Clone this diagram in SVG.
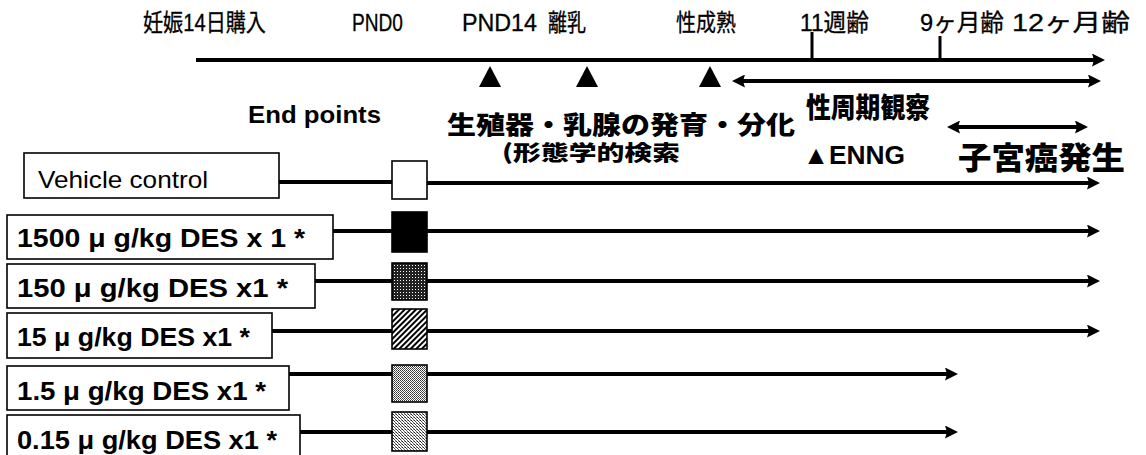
<svg xmlns="http://www.w3.org/2000/svg" width="1146" height="455" viewBox="0 0 1146 455">
<style>
.lbl{font-family:"Liberation Sans","Noto Sans CJK JP",sans-serif;fill:#000}
.top{font-size:24px;stroke:#000;stroke-width:0.3}
.b{font-weight:bold}
.jp{font-family:"Noto Sans CJK JP","Liberation Sans",sans-serif;font-weight:900;fill:#000}
.box{fill:#fff;stroke:#000;stroke-width:1.6}
.sq{stroke:#000;stroke-width:1.6}
.ln{stroke:#000;stroke-width:4;fill:none}
.lnA{stroke:#000;stroke-width:4;fill:none;marker-end:url(#ah)}
.dbl{stroke:#000;stroke-width:4;fill:none;marker-end:url(#ah);marker-start:url(#ah)}
</style>
<defs>
<marker id="ah" markerUnits="userSpaceOnUse" viewBox="0 0 13 13" refX="4" refY="6.5" markerWidth="13" markerHeight="13" orient="auto-start-reverse">
<path d="M0,0 L13,6.5 L0,13 L2,6.5 z" fill="#000"/>
</marker>
<pattern id="pDark" width="3" height="3" patternUnits="userSpaceOnUse">
<rect width="3" height="3" fill="#222"/>
<rect x="1" y="1" width="1" height="1" fill="#fff"/>
</pattern>
<pattern id="pHatch" width="4" height="4" patternUnits="userSpaceOnUse" patternTransform="rotate(-45)">
<rect width="4" height="4" fill="#fff"/>
<rect width="4" height="2" fill="#000"/>
</pattern>
<pattern id="pLight1" width="2" height="2" patternUnits="userSpaceOnUse">
<rect width="2" height="2" fill="#fff"/>
<rect width="1" height="1" fill="#333"/>
<rect x="1" y="1" width="1" height="1" fill="#555"/>
</pattern>
<pattern id="pLight2" width="3" height="3" patternUnits="userSpaceOnUse">
<rect width="3" height="3" fill="#fff"/>
<rect width="1" height="1" fill="#222"/>
<rect x="1" y="1" width="1" height="1" fill="#444"/>
<rect x="2" y="2" width="1" height="1" fill="#666"/>
<rect x="2" y="0" width="1" height="1" fill="#aaa"/>
</pattern>
</defs>
<rect width="1146" height="455" fill="#fff"/>

<g id="timeline-labels">
<text class="lbl top" x="143" y="31" textLength="123" lengthAdjust="spacingAndGlyphs">妊娠14日購入</text>
<text class="lbl top" x="352" y="31" textLength="51" lengthAdjust="spacingAndGlyphs">PND0</text>
<text class="lbl top" x="462" y="31" textLength="75" lengthAdjust="spacingAndGlyphs">PND14</text>
<text class="lbl top" x="548" y="31" textLength="38" lengthAdjust="spacingAndGlyphs">離乳</text>
<text class="lbl top" x="676" y="31" textLength="60" lengthAdjust="spacingAndGlyphs">性成熟</text>
<text class="lbl top" x="800" y="31" textLength="69" lengthAdjust="spacingAndGlyphs">11週齢</text>
<text class="lbl top" x="920" y="31" textLength="84" lengthAdjust="spacingAndGlyphs">9ヶ月齢</text>
<text class="lbl top" x="1012" y="31" textLength="118" lengthAdjust="spacingAndGlyphs">12ヶ月齢</text>
</g>

<g id="timeline">
<line class="lnA" x1="196" y1="60" x2="1096" y2="60"/>
<line x1="812" y1="32" x2="812" y2="60" stroke="#000" stroke-width="3"/>
<line x1="940" y1="36" x2="940" y2="60" stroke="#000" stroke-width="3"/>
</g>

<g id="markers-triangles" fill="#000">
<polygon points="479,87 490,66 501,87"/>
<polygon points="576,87 587,66 598,87"/>
<polygon points="699,87 710,66 721,87"/>
</g>

<g id="endpoints-title">
<text class="lbl b" x="248" y="123" font-size="24" textLength="133" lengthAdjust="spacingAndGlyphs">End points</text>
</g>

<g id="development-label">
<text class="jp" x="447" y="134" font-size="25" textLength="348" lengthAdjust="spacingAndGlyphs">生殖器・乳腺の発育・分化</text>
<text class="jp" x="502" y="160" font-size="21" textLength="178" lengthAdjust="spacingAndGlyphs">(形態学的検索</text>
</g>

<g id="estrous-cycle">
<text class="jp" x="806" y="118" font-size="28" textLength="124" lengthAdjust="spacingAndGlyphs">性周期観察</text>
</g>

<g id="enng">
<text class="lbl b" x="803" y="164" font-size="26" textLength="102" lengthAdjust="spacingAndGlyphs">▲ENNG</text>
</g>

<g id="uterine-cancer">
<text class="jp" x="958" y="169" font-size="31" textLength="167" lengthAdjust="spacingAndGlyphs">子宮癌発生</text>
</g>

<g id="row-vehicle">
<rect class="box" x="24" y="153" width="255" height="45"/>
<text class="lbl" x="38" y="188" font-size="24" textLength="170" lengthAdjust="spacingAndGlyphs">Vehicle control</text>
<rect class="sq" x="392" y="161" width="35" height="38" fill="#fff"/>
</g>
<g id="row-1500">
<rect class="box" x="7" y="215" width="326" height="44"/>
<text class="lbl b" x="17" y="247" font-size="25" textLength="288" lengthAdjust="spacingAndGlyphs">1500 μ g/kg DES x 1 *</text>
<rect class="sq" x="392" y="212" width="35" height="40" fill="#000"/>
</g>
<g id="row-150">
<rect class="box" x="7" y="264" width="308" height="44"/>
<text class="lbl b" x="17" y="297" font-size="25" textLength="271" lengthAdjust="spacingAndGlyphs">150 μ g/kg DES x1 *</text>
<rect class="sq" x="392" y="263" width="35" height="37" fill="url(#pDark)"/>
</g>
<g id="row-15">
<rect class="box" x="7" y="313" width="265" height="45"/>
<text class="lbl b" x="17" y="346" font-size="25" textLength="233" lengthAdjust="spacingAndGlyphs">15 μ g/kg DES x1 *</text>
<rect class="sq" x="392" y="309" width="35" height="40" fill="url(#pHatch)"/>
</g>
<g id="row-1_5">
<rect class="box" x="7" y="366" width="282" height="44"/>
<text class="lbl b" x="17" y="400" font-size="25" textLength="249" lengthAdjust="spacingAndGlyphs">1.5 μ g/kg DES x1 *</text>
<rect class="sq" x="392" y="365" width="35" height="37" fill="url(#pLight1)"/>
</g>
<g id="row-0_15">
<rect class="box" x="7" y="415" width="293" height="46"/>
<text class="lbl b" x="17" y="449" font-size="25" textLength="260" lengthAdjust="spacingAndGlyphs">0.15 μ g/kg DES x1 *</text>
<rect class="sq" x="392" y="412" width="35" height="39" fill="url(#pLight2)"/>
</g>

<g id="connectors">
<line class="dbl" x1="741" y1="81" x2="1092" y2="81"/>
<line class="dbl" x1="956" y1="127" x2="1079" y2="127"/>
<line class="ln" x1="279" y1="182" x2="392" y2="182" stroke-width="3"/>
<line class="lnA" x1="427" y1="183" x2="1091" y2="183"/>
<line class="ln" x1="333" y1="231" x2="392" y2="231"/>
<line class="lnA" x1="427" y1="231" x2="1091" y2="231"/>
<line class="ln" x1="315" y1="281" x2="392" y2="281"/>
<line class="lnA" x1="427" y1="281" x2="1091" y2="281"/>
<line class="ln" x1="272" y1="331" x2="392" y2="331"/>
<line class="lnA" x1="427" y1="331" x2="1091" y2="331"/>
<line class="ln" x1="289" y1="374" x2="392" y2="374"/>
<line class="lnA" x1="427" y1="374" x2="949" y2="374"/>
<line class="ln" x1="300" y1="432" x2="392" y2="432"/>
<line class="lnA" x1="427" y1="432" x2="949" y2="432"/>
</g>
</svg>
